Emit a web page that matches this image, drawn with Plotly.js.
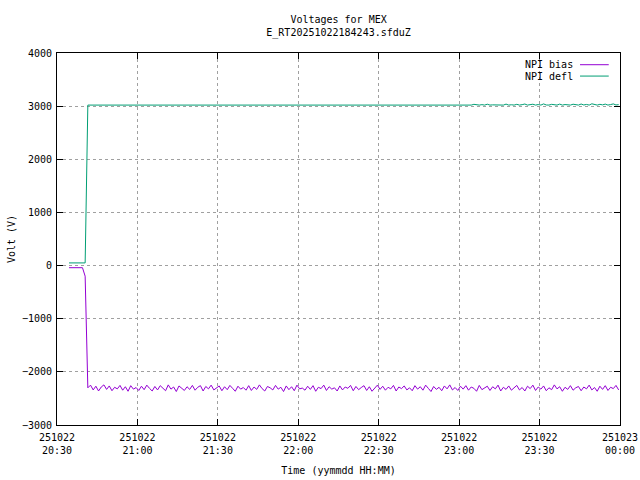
<!DOCTYPE html>
<html>
<head>
<meta charset="utf-8">
<script src="https://cdn.plot.ly/plotly-3.0.1.min.js"></script>
<style>html,body{margin:0;padding:0;background:#fff}#chart{width:640px;height:480px}</style>
</head>
<body>
<div id="chart"></div>
<script>
// Sampling: one reading per minute starting at 20:34:30
const startTime = '2025-10-22 20:34:30';
const stepMs = 60000;

const tickVals = ['2025-10-22 20:30','2025-10-22 21:00','2025-10-22 21:30','2025-10-22 22:00',
                  '2025-10-22 22:30','2025-10-22 23:00','2025-10-22 23:30','2025-10-23 00:00'];
const tickText = ['251022<br>20:30','251022<br>21:00','251022<br>21:30','251022<br>22:00',
                  '251022<br>22:30','251022<br>23:00','251022<br>23:30','251023<br>00:00'];

const seriesNames = ['NPI bias', 'NPI defl'];
const seriesColors = ['#9400d3', '#009e73'];

const npiBias = [
  -40,-40,-40,-40,-40,-40,-200,
  -2300,-2250,-2340,-2270,-2360,-2285,-2245,-2330,-2265,-2355,-2290,-2320,-2255,-2345,-2280,-2365,-2260,-2325,-2295,-2350,
  -2270,-2335,-2250,-2310,-2360,-2275,-2340,-2260,-2300,-2355,-2245,-2325,-2285,-2370,-2265,-2315,-2350,-2280,-2330,-2255,
  -2345,-2290,-2260,-2360,-2275,-2320,-2250,-2340,-2305,-2265,-2355,-2280,-2335,-2255,-2310,-2365,-2270,-2325,-2295,-2345,
  -2260,-2350,-2285,-2330,-2245,-2315,-2360,-2275,-2300,-2340,-2255,-2325,-2290,-2370,-2265,-2335,-2280,-2355,-2250,-2320,
  -2305,-2345,-2270,-2330,-2260,-2365,-2290,-2315,-2250,-2350,-2280,-2325,-2300,-2360,-2265,-2340,-2285,-2310,-2255,-2355,
  -2275,-2335,-2295,-2260,-2350,-2280,-2365,-2305,-2250,-2330,-2270,-2345,-2290,-2320,-2255,-2360,-2285,-2315,-2265,-2340,
  -2300,-2355,-2260,-2325,-2280,-2345,-2250,-2310,-2370,-2275,-2330,-2290,-2355,-2265,-2320,-2245,-2340,-2295,-2350,-2270,
  -2325,-2260,-2345,-2285,-2310,-2365,-2255,-2335,-2300,-2270,-2350,-2280,-2320,-2250,-2360,-2290,-2330,-2265,-2345,-2305,
  -2255,-2340,-2295,-2360,-2270,-2315,-2250,-2350,-2285,-2325,-2265,-2355,-2300,-2335,-2245,-2320,-2280,-2365,-2290,-2330,
  -2260,-2345,-2300,-2275,-2355,-2285,-2320,-2250,-2340,-2295,-2365,-2270,-2330,-2260,-2350,-2290,-2315,-2255,-2340
];

const npiDefl = [
  50,50,50,50,50,50,50,
  3020,3020,3021,3020,3020,3019,3020,3020,3021,3020,3020,3020,3019,3020,3020,3021,3020,3020,3020,3020,
  3020,3021,3020,3020,3019,3020,3020,3020,3021,3020,3020,3020,3020,3019,3020,3021,3020,3020,3020,3020,
  3020,3020,3021,3020,3020,3020,3019,3020,3020,3020,3021,3020,3020,3020,3020,3019,3020,3021,3020,3020,
  3021,3020,3020,3020,3019,3020,3020,3021,3020,3020,3020,3020,3019,3020,3021,3020,3020,3020,3020,3020,
  3020,3019,3020,3022,3020,3020,3021,3020,3019,3020,3020,3022,3020,3020,3021,3020,3019,3020,3020,3020,
  3022,3020,3020,3021,3019,3020,3024,3020,3020,3021,3020,3025,3020,3019,3020,3022,3020,3020,3026,3020,
  3021,3020,3028,3020,3019,3024,3020,3030,3020,3021,3020,3026,3020,3032,3020,3022,3020,3028,3019,3020,
  3030,3020,3024,3020,3034,3021,3020,3028,3020,3036,3020,3024,3020,3030,3022,3020,3038,3020,3026,3020,
  3034,3020,3028,3040,3020,3024,3036,3020,3030,3020,3042,3022,3020,3034,3026,3020,3038,3020,3030,3024,
  3020,3036,3028,3020,3040,3022,3032,3020,3044,3026,3020,3034,3024,3038,3020,3030,3042,3022,3028
];

const font = {family: '"DejaVu Sans Mono", "Liberation Mono", monospace', size: 10, color: '#000'};

const traces = [
  {name: seriesNames[0], type: 'scatter', mode: 'lines', x0: startTime, dx: stepMs, y: npiBias,
   line: {color: seriesColors[0], width: 1}, showlegend: false},
  {name: seriesNames[1], type: 'scatter', mode: 'lines', x0: startTime, dx: stepMs, y: npiDefl,
   line: {color: seriesColors[1], width: 1}, showlegend: false}
];

// gnuplot-style key: right-aligned label followed by a line sample
const keyRowsY = [0.9685, 0.938];
const annotations = seriesNames.map((n, i) => ({
  xref: 'paper', yref: 'paper', x: 0.920, y: keyRowsY[i], xanchor: 'right', yanchor: 'middle',
  text: n, showarrow: false, font: font
}));
const shapes = seriesColors.map((c, i) => ({
  type: 'line', xref: 'paper', yref: 'paper', x0: 0.929, x1: 0.980, y0: keyRowsY[i], y1: keyRowsY[i],
  line: {color: c, width: 1}
}));

const axisCommon = {
  showline: true, linecolor: '#000', linewidth: 1, mirror: 'ticks',
  ticks: 'inside', ticklen: 6, tickcolor: '#000', tickwidth: 1,
  showgrid: true, gridcolor: '#a0a0a0', gridwidth: 1, griddash: '3px,3px',
  zeroline: false, tickfont: font
};

const layout = {
  width: 640, height: 480,
  paper_bgcolor: '#fff', plot_bgcolor: '#fff',
  margin: {l: 57, r: 20, t: 53, b: 55},
  font: font,
  title: {text: 'Voltages for MEX<br>E_RT20251022184243.sfduZ', font: font,
          x: 0.529, xanchor: 'center', y: 0.952, yref: 'container', yanchor: 'top'},
  xaxis: Object.assign({}, axisCommon, {
    type: 'date', range: ['2025-10-22 20:30', '2025-10-23 00:00'],
    tickmode: 'array', tickvals: tickVals, ticktext: tickText, ticklabelstandoff: 3,
    title: {text: 'Time (yymmdd HH:MM)', font: font, standoff: 11}
  }),
  yaxis: Object.assign({}, axisCommon, {
    range: [-3000, 4000], tickmode: 'linear', tick0: -3000, dtick: 1000, ticklabelstandoff: 2,
    title: {text: 'Volt (V)', font: font, standoff: 4}
  }),
  showlegend: false,
  annotations: annotations,
  shapes: shapes
};

Plotly.newPlot('chart', traces, layout, {displayModeBar: false, staticPlot: true});
</script>
</body>
</html>
